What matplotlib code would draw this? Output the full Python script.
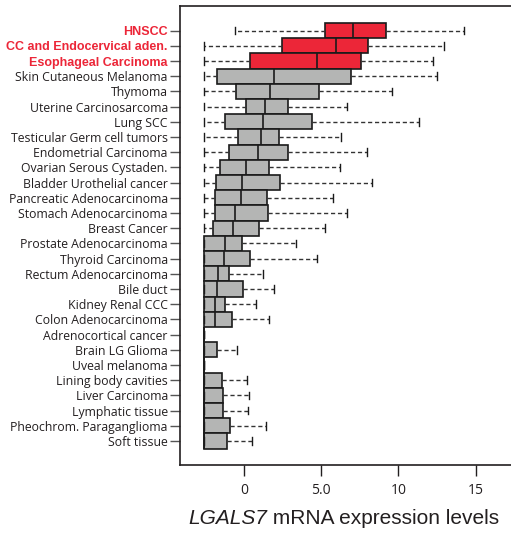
import matplotlib
matplotlib.use("Agg")
import matplotlib.pyplot as plt

categories = ["HNSCC", "CC and Endocervical aden.", "Esophageal Carcinoma",
              "Skin Cutaneous Melanoma", "Thymoma", "Uterine Carcinosarcoma",
              "Lung SCC", "Testicular Germ cell tumors", "Endometrial Carcinoma",
              "Ovarian Serous Cystaden.", "Bladder Urothelial cancer",
              "Pancreatic Adenocarcinoma", "Stomach Adenocarcinoma", "Breast Cancer",
              "Prostate Adenocarcinoma", "Thyroid Carcinoma", "Rectum Adenocarcinoma",
              "Bile duct", "Kidney Renal CCC", "Colon Adenocarcinoma",
              "Adrenocortical cancer", "Brain LG Glioma", "Uveal melanoma",
              "Lining body cavities", "Liver Carcinoma", "Lymphatic tissue",
              "Pheochrom. Paraganglioma", "Soft tissue"]
whislo = [-0.58, -2.59, -2.59, -2.59, -2.59, -2.59, -2.59, -2.59, -2.59, -2.59,
          -2.59, -2.59, -2.59, -2.59, -2.59, -2.59, -2.59, -2.59, -2.59, -2.59,
          -2.59, -2.59, -2.59, -2.59, -2.59, -2.59, -2.59, -2.59]
q1 = [5.26, 2.48, 0.41, -1.77, -0.54, 0.11, -1.21, -0.41, -0.95, -1.53,
      -1.79, -1.90, -1.86, -1.98, -2.59, -2.59, -2.59, -2.59, -2.59, -2.59,
      -2.59, -2.59, -2.59, -2.59, -2.59, -2.59, -2.59, -2.59]
med = [7.08, 5.93, 4.75, 1.96, 1.70, 1.36, 1.23, 1.10, 0.93, 0.13,
       -0.11, -0.17, -0.56, -0.69, -1.21, -1.32, -1.68, -1.75, -1.86, -1.86,
       -2.59, -2.59, -2.59, -2.59, -2.59, -2.59, -2.59, -2.59]
q3 = [9.17, 8.00, 7.60, 6.90, 4.83, 2.83, 4.42, 2.29, 2.87, 1.64,
      2.35, 1.47, 1.58, 0.97, -0.13, 0.39, -0.99, -0.06, -1.21, -0.75,
      -2.59, -1.75, -2.59, -1.45, -1.38, -1.34, -0.93, -1.10]
whishi = [14.26, 12.94, 12.21, 12.49, 9.56, 6.69, 11.35, 6.28, 7.98, 6.24,
          8.26, 5.76, 6.64, 5.24, 3.39, 4.72, 1.23, 1.96, 0.80, 1.62,
          -2.59, -0.47, -2.59, 0.19, 0.32, 0.28, 1.44, 0.52]
highlighted = ["HNSCC", "CC and Endocervical aden.", "Esophageal Carcinoma"]
xticks = [0, 5, 10, 15]
xticklabels = ["0", "5.0", "10", "15"]
xlabel_gene = "LGALS7"
xlabel_rest = " mRNA expression levels"

RED = "#ec2638"
GRAY = "#b4b5b4"

plt.rcParams['font.family'] = ['Open Sans', 'DejaVu Sans']

fig = plt.figure(figsize=(5.11, 5.35), dpi=100)
W, H = 511, 535
ax = fig.add_axes([180.3 / W, 1 - 465 / H, (W + 5 - 180.3) / W, (465 - 5.7) / H])

stats = []
for i, c in enumerate(categories):
    stats.append(dict(label=c, whislo=whislo[i], q1=q1[i], med=med[i],
                      q3=q3[i], whishi=whishi[i], fliers=[]))

positions = list(range(len(categories)))
bp = ax.bxp(stats, positions=positions, vert=False, widths=1.0, patch_artist=True,
            showfliers=False, capwidths=0.5,
            boxprops=dict(edgecolor="#1a1a1a", linewidth=1.2),
            medianprops=dict(color="#1a1a1a", linewidth=1.2),
            whiskerprops=dict(color="#333333", linestyle=(0, (3, 2)), linewidth=1.0),
            capprops=dict(color="#1a1a1a", linewidth=1.0))
for i, box in enumerate(bp['boxes']):
    box.set_facecolor(RED if categories[i] in highlighted else GRAY)

ax.set_xlim(-4.12, (W + 5 - 244) / 15.45)
ax.set_ylim(28.58, -1.64)
ax.set_yticks(positions)
ax.set_yticklabels(categories, fontsize=8.8)
for lbl in ax.get_yticklabels():
    if lbl.get_text() in highlighted:
        lbl.set_color(RED)
        lbl.set_fontweight("bold")
        lbl.set_family(['Liberation Sans', 'DejaVu Sans'])
        lbl.set_fontsize(9.0)
    else:
        lbl.set_color("#231f20")
ax.set_xticks(xticks)
ax.set_xticklabels(xticklabels, fontsize=10, color="#231f20")
ax.tick_params(axis='y', length=7, width=1.0, color="#555555", pad=2)
ax.tick_params(axis='x', length=8, width=1.0, color="#231f20", pad=5)
ax.spines['right'].set_visible(False)
for s in ['left', 'top', 'bottom']:
    ax.spines[s].set_linewidth(1.2)
    ax.spines[s].set_color("#231f20")

t1 = fig.text(188 / W, 1 - 519 / H, xlabel_gene, fontsize=15, style="italic",
              color="#231f20", va="center", ha="left",
              family=['Liberation Sans', 'DejaVu Sans'])
fig.canvas.draw()
bb = t1.get_window_extent(renderer=fig.canvas.get_renderer())
fig.text(bb.x1 / W, 1 - 519 / H, xlabel_rest, fontsize=15,
         color="#231f20", va="center", ha="left",
         family=['Liberation Sans', 'DejaVu Sans'])

fig.savefig("out.png", dpi=100)
